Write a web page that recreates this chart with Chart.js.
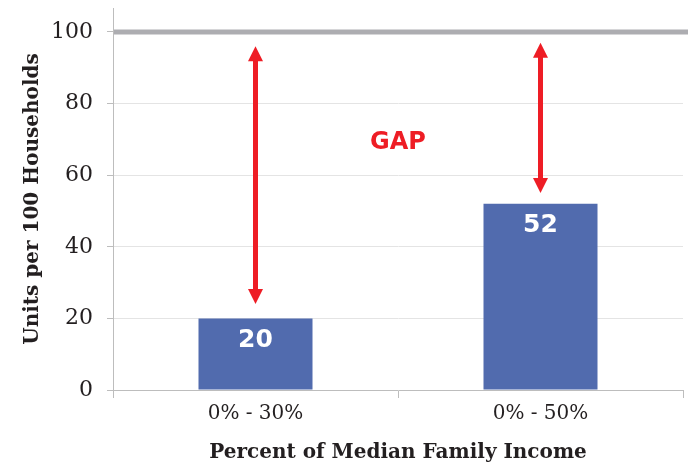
<!DOCTYPE html>
<html lang="en">
<head>
    <meta charset="UTF-8">
    <title>Units per 100 Households</title>
    <script src="https://cdn.jsdelivr.net/npm/chart.js"></script>
    <style>
        html, body { margin: 0; padding: 0; background: #fff; }
        #wrap { width: 688px; height: 465px; }
    </style>
</head>
<body>
    <div id="wrap"><canvas id="gapChart"></canvas></div>
    <script>
        // data
        const categories = ['0% - 30%', '0% - 50%'];
        const units = [20, 52];
        const yTicks = [0, 20, 40, 60, 80, 100];
        const fullSupply = 100;
        const arrowTop = [96, 97];
        const arrowBottom = [24, 55];
        const gapText = 'GAP';
        const gapAt = 69;

        const RED = '#EE1D25';
        const SERIF = '"DejaVu Serif", serif';
        const SANS = '"DejaVu Sans", sans-serif';

        const gapPlugin = {
            id: 'gapPlugin',
            afterDatasetsDraw(chart) {
                const { ctx, chartArea, scales: { x, y } } = chart;
                ctx.save();

                // 100 units line
                const y100 = y.getPixelForValue(fullSupply);
                ctx.strokeStyle = '#ADADB1';
                ctx.lineWidth = 5;
                ctx.beginPath();
                ctx.moveTo(chartArea.left + 1, y100);
                ctx.lineTo(chartArea.right + 5, y100);
                ctx.stroke();

                // arrows
                const head = 15, halfW = 7.5;
                ctx.strokeStyle = RED;
                ctx.fillStyle = RED;
                ctx.lineWidth = 5;
                categories.forEach((c, i) => {
                    const px = x.getPixelForValue(i);
                    const t = y.getPixelForValue(arrowTop[i]);
                    const b = y.getPixelForValue(arrowBottom[i]);
                    ctx.beginPath();
                    ctx.moveTo(px, t + head - 2);
                    ctx.lineTo(px, b - head + 2);
                    ctx.stroke();
                    ctx.beginPath();
                    ctx.moveTo(px, t);
                    ctx.lineTo(px - halfW, t + head);
                    ctx.lineTo(px + halfW, t + head);
                    ctx.closePath();
                    ctx.fill();
                    ctx.beginPath();
                    ctx.moveTo(px, b);
                    ctx.lineTo(px - halfW, b - head);
                    ctx.lineTo(px + halfW, b - head);
                    ctx.closePath();
                    ctx.fill();
                });

                // GAP
                ctx.font = 'bold 24px ' + SANS;
                ctx.textAlign = 'center';
                ctx.textBaseline = 'middle';
                ctx.fillText(gapText, x.getPixelForValue(0.5), y.getPixelForValue(gapAt));

                // values in the bars
                ctx.fillStyle = '#ffffff';
                ctx.font = 'bold 25px ' + SANS;
                units.forEach((v, i) => {
                    ctx.fillText(String(v), x.getPixelForValue(i), y.getPixelForValue(v) + 22);
                });
                ctx.restore();
            }
        };

        new Chart(document.getElementById('gapChart'), {
            type: 'bar',
            data: {
                labels: categories,
                datasets: [{
                    data: units,
                    backgroundColor: '#516BAE',
                    barPercentage: 0.4,
                    categoryPercentage: 1
                }]
            },
            options: {
                responsive: true,
                maintainAspectRatio: false,
                animation: false,
                layout: { padding: { top: 8, right: 5, left: 0, bottom: 0 } },
                plugins: {
                    legend: { display: false },
                    tooltip: { enabled: false }
                },
                scales: {
                    x: {
                        afterFit(scale) {
                            scale.height = 75;
                            scale.paddingLeft = 0;
                            scale.paddingRight = 0;
                        },
                        border: { color: '#BDBDBD', width: 1 },
                        grid: { drawOnChartArea: false, tickLength: 8, tickColor: '#BDBDBD' },
                        ticks: { color: '#231F20', padding: 4, font: { family: SERIF, size: 20 } },
                        title: {
                            display: true,
                            text: 'Percent of Median Family Income',
                            color: '#231F20',
                            padding: { top: 4, bottom: 0 },
                            font: { family: SERIF, size: 20, weight: 'bold' }
                        }
                    },
                    y: {
                        min: 0,
                        max: 106.7,
                        afterFit(scale) {
                            scale.width = 113;
                            scale.paddingTop = 0;
                            scale.paddingBottom = 0;
                        },
                        afterBuildTicks(scale) { scale.ticks = yTicks.map(v => ({ value: v })); },
                        border: { color: '#BDBDBD', width: 1 },
                        grid: {
                            color: ctx => ctx.tick && ctx.tick.value > 0 && ctx.tick.value < fullSupply ? '#E4E4E4' : 'rgba(0,0,0,0)',
                            tickColor: '#BDBDBD',
                            tickLength: 6
                        },
                        ticks: { color: '#231F20', padding: 14, font: { family: SERIF, size: 22 } },
                        title: {
                            display: true,
                            text: 'Units per 100 Households',
                            color: '#231F20',
                            padding: { top: 21, bottom: 0 },
                            font: { family: SERIF, size: 20, weight: 'bold' }
                        }
                    }
                }
            },
            plugins: [gapPlugin]
        });
    </script>
</body>
</html>
